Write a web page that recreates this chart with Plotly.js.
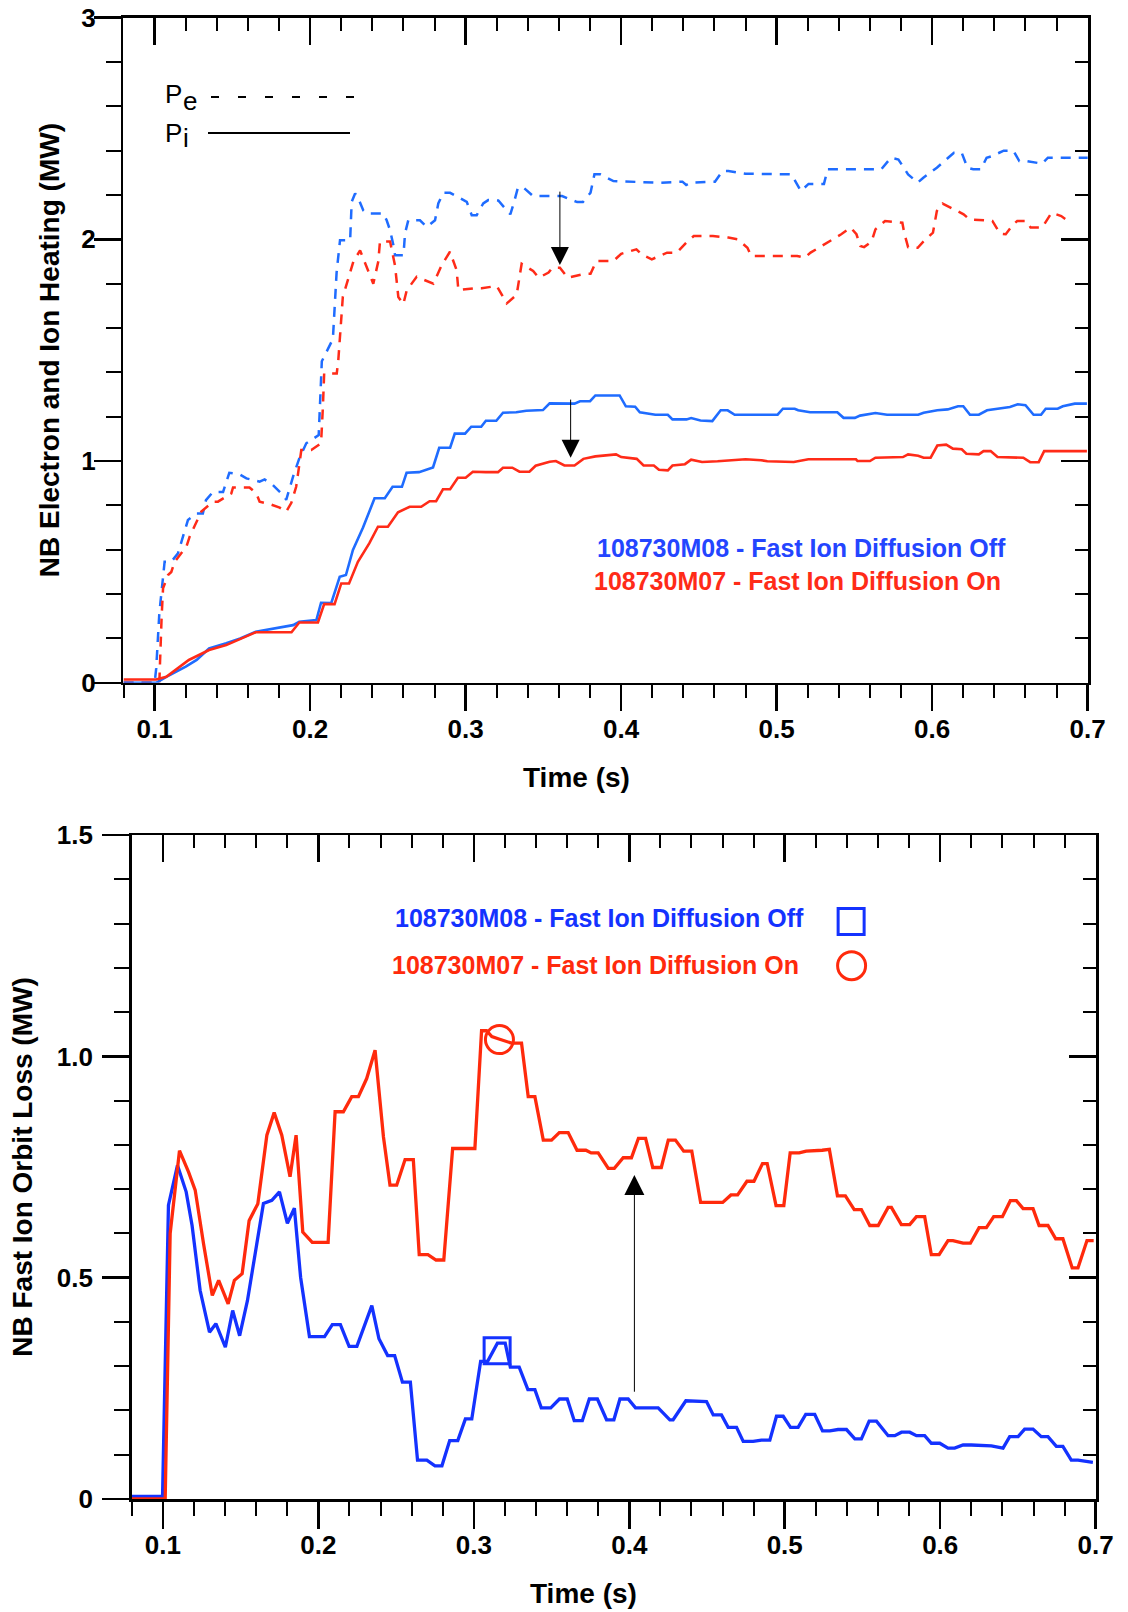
<!DOCTYPE html>
<html>
<head>
<meta charset="utf-8">
<script src="https://cdn.plot.ly/plotly-3.0.1.min.js"></script>
<style>
html,body{margin:0;padding:0;background:#ffffff;}
#chart{width:1128px;height:1612px;}
</style>
</head>
<body>
<div id="chart"></div>
<script>
// ---------------- DATA (top panel: NB electron / ion heating, MW) ----------------
const peBlueT = [0.08,0.1,0.101,0.103,0.1064,0.1107,0.115,0.1214,0.127,0.131,0.133,0.1375,0.144,0.148,0.1546,0.159,0.1675,0.1707,0.176,0.1836,0.1846,0.189,0.193,0.1975,0.2055,0.2065,0.2075,0.2146,0.2155,0.217,0.2192,0.2212,0.2257,0.2267,0.2289,0.231,0.2342,0.2364,0.247,0.2492,0.2514,0.2535,0.2546,0.26,0.261,0.2631,0.2706,0.275,0.2803,0.2824,0.2856,0.29,0.2964,0.3007,0.3039,0.3071,0.3113,0.3145,0.321,0.3287,0.331,0.3336,0.3373,0.3434,0.362,0.3717,0.3754,0.3803,0.3828,0.3865,0.395,0.4123,0.4246,0.4394,0.4418,0.4443,0.4603,0.4652,0.4689,0.48,0.5095,0.5107,0.5156,0.5205,0.5304,0.5328,0.5673,0.5734,0.5783,0.5845,0.5907,0.5943,0.603,0.6103,0.614,0.619,0.6227,0.6264,0.6313,0.635,0.6387,0.646,0.6522,0.656,0.661,0.6707,0.6744,0.7];
const peBlueV = [0,0,0.065,0.313,0.546,0.546,0.584,0.734,0.764,0.764,0.824,0.861,0.861,0.947,0.94,0.922,0.907,0.917,0.892,0.839,0.825,0.93,1.012,1.08,1.117,1.3,1.45,1.55,1.65,1.85,1.996,1.996,1.996,2.169,2.207,2.184,2.13,2.117,2.117,2.086,2.041,1.974,1.928,1.928,2.027,2.086,2.086,2.056,2.086,2.162,2.21,2.21,2.184,2.169,2.109,2.109,2.162,2.177,2.175,2.113,2.165,2.233,2.233,2.195,2.195,2.168,2.168,2.21,2.293,2.293,2.263,2.26,2.255,2.26,2.245,2.255,2.26,2.308,2.308,2.296,2.293,2.278,2.218,2.25,2.25,2.316,2.316,2.368,2.36,2.293,2.256,2.278,2.323,2.368,2.39,2.39,2.323,2.316,2.316,2.368,2.376,2.4,2.4,2.353,2.353,2.341,2.368,2.368];

const peRedT = [0.08,0.103,0.1045,0.1054,0.1086,0.1107,0.1129,0.116,0.1204,0.1225,0.1257,0.13,0.1375,0.1407,0.1493,0.1504,0.161,0.1654,0.1675,0.174,0.1804,0.1846,0.1879,0.191,0.193,0.1943,0.2007,0.207,0.2082,0.209,0.2171,0.2181,0.221,0.2278,0.2321,0.2385,0.2406,0.2438,0.2449,0.2514,0.2546,0.2567,0.2599,0.2621,0.2685,0.2792,0.2846,0.2899,0.2942,0.2953,0.3049,0.3103,0.32,0.3264,0.3328,0.336,0.3434,0.347,0.3533,0.3557,0.3606,0.3656,0.3766,0.3803,0.384,0.395,0.4,0.4098,0.4135,0.4197,0.4295,0.4357,0.4418,0.4467,0.459,0.4689,0.475,0.4812,0.4836,0.5132,0.518,0.5218,0.5304,0.5353,0.5415,0.5476,0.5513,0.5538,0.5562,0.561,0.5635,0.5697,0.5808,0.582,0.5845,0.5907,0.5943,0.6005,0.603,0.6067,0.6116,0.6202,0.624,0.6387,0.6436,0.6473,0.6522,0.6547,0.6608,0.6633,0.6707,0.6732,0.6768,0.683,0.686];
const peRedV = [0,0,0.3,0.426,0.486,0.5,0.546,0.576,0.614,0.659,0.704,0.772,0.817,0.817,0.854,0.881,0.881,0.854,0.817,0.806,0.79,0.772,0.812,0.884,0.982,1.05,1.05,1.08,1.245,1.395,1.395,1.455,1.74,1.9,1.95,1.83,1.8,1.9,1.99,1.99,1.88,1.74,1.708,1.77,1.831,1.8,1.884,1.944,1.861,1.771,1.779,1.779,1.79,1.711,1.75,1.89,1.857,1.827,1.85,1.872,1.872,1.827,1.845,1.845,1.902,1.902,1.935,1.955,1.93,1.91,1.94,1.94,1.985,2.015,2.015,2.008,2.0,1.962,1.925,1.925,1.917,1.94,1.977,1.995,2.023,2.053,2.023,1.97,1.965,1.99,2.045,2.083,2.075,2.03,1.965,1.962,1.99,2.03,2.128,2.161,2.143,2.113,2.09,2.083,2.026,2.023,2.068,2.083,2.083,2.053,2.053,2.083,2.12,2.105,2.09];

const piBlueT = [0.08,0.101,0.1075,0.12,0.127,0.135,0.146,0.155,0.165,0.178,0.189,0.193,0.204,0.207,0.2136,0.219,0.223,0.2275,0.234,0.2414,0.248,0.253,0.259,0.262,0.27,0.279,0.283,0.29,0.293,0.2996,0.3036,0.31,0.313,0.3197,0.324,0.3325,0.339,0.3497,0.354,0.37,0.3735,0.38,0.3834,0.399,0.403,0.409,0.412,0.422,0.43,0.433,0.442,0.445,0.451,0.4586,0.464,0.4685,0.473,0.5006,0.504,0.5116,0.5138,0.5215,0.539,0.543,0.5503,0.5536,0.5635,0.571,0.591,0.5945,0.6033,0.61,0.6166,0.62,0.6243,0.63,0.6353,0.65,0.655,0.66,0.6652,0.67,0.673,0.6807,0.684,0.6917,0.6995];
const piBlueV = [0,0,0.027,0.073,0.103,0.155,0.178,0.2,0.23,0.245,0.26,0.275,0.283,0.361,0.36,0.478,0.486,0.599,0.7,0.832,0.832,0.884,0.884,0.947,0.95,0.971,1.06,1.06,1.124,1.124,1.155,1.155,1.182,1.182,1.218,1.22,1.227,1.23,1.26,1.259,1.27,1.27,1.296,1.296,1.247,1.245,1.22,1.209,1.209,1.188,1.188,1.194,1.183,1.18,1.229,1.229,1.209,1.209,1.236,1.236,1.229,1.22,1.22,1.195,1.195,1.205,1.217,1.209,1.209,1.218,1.229,1.233,1.247,1.247,1.209,1.209,1.229,1.244,1.256,1.252,1.209,1.209,1.236,1.236,1.247,1.259,1.259];

const piRedT = [0.08,0.101,0.1075,0.122,0.135,0.146,0.165,0.188,0.193,0.205,0.209,0.2157,0.22,0.225,0.2307,0.238,0.2436,0.25,0.2565,0.264,0.2714,0.2768,0.281,0.2854,0.29,0.295,0.3,0.3046,0.313,0.3208,0.324,0.33,0.3346,0.341,0.345,0.354,0.358,0.3635,0.37,0.3757,0.3834,0.392,0.3967,0.4,0.41,0.4144,0.421,0.4243,0.43,0.433,0.441,0.445,0.452,0.462,0.48,0.49,0.494,0.511,0.5204,0.551,0.552,0.56,0.5635,0.5812,0.5845,0.591,0.5945,0.599,0.6033,0.609,0.6133,0.619,0.622,0.63,0.633,0.6376,0.642,0.6586,0.663,0.6685,0.672,0.6995];
const piRedV = [0.015,0.015,0.027,0.103,0.148,0.17,0.228,0.228,0.272,0.272,0.355,0.355,0.448,0.448,0.546,0.629,0.704,0.704,0.769,0.794,0.794,0.819,0.819,0.873,0.873,0.925,0.925,0.952,0.95,0.95,0.97,0.97,0.952,0.952,0.979,0.997,1.0,0.98,0.98,1.01,1.021,1.025,1.03,1.018,1.01,0.98,0.98,0.961,0.958,0.98,0.986,1.006,0.996,0.999,1.008,1.004,0.999,0.996,1.008,1.008,1.0,1.0,1.015,1.018,1.03,1.024,1.015,1.015,1.07,1.074,1.056,1.053,1.033,1.03,1.045,1.045,1.018,1.015,0.995,0.995,1.045,1.045];

// ---------------- DATA (bottom panel: NB fast ion orbit loss, MW) ----------------
const lossBlueT = [0.08,0.0998,0.1036,0.1094,0.115,0.1188,0.124,0.13,0.1341,0.1402,0.1449,0.1494,0.1544,0.1593,0.1647,0.1701,0.175,0.1801,0.1846,0.1886,0.1943,0.204,0.209,0.2142,0.2198,0.2248,0.2344,0.239,0.2446,0.2491,0.2541,0.2592,0.2638,0.2698,0.275,0.2795,0.2845,0.2897,0.2946,0.2987,0.3044,0.3089,0.3152,0.3202,0.3235,0.3292,0.3348,0.3393,0.3434,0.3495,0.3551,0.3601,0.3646,0.3698,0.3743,0.3795,0.3854,0.3901,0.394,0.3993,0.404,0.4186,0.4261,0.4282,0.4364,0.4497,0.454,0.4593,0.4636,0.469,0.4733,0.4797,0.485,0.4904,0.4947,0.499,0.5037,0.5086,0.5135,0.5193,0.5243,0.529,0.5343,0.5397,0.5451,0.5493,0.5543,0.559,0.5665,0.5708,0.5751,0.5804,0.5847,0.59,0.5943,0.5997,0.605,0.6093,0.6147,0.62,0.6329,0.6404,0.6447,0.6501,0.6543,0.6597,0.665,0.6693,0.6747,0.6789,0.6843,0.6886,0.6982];
const lossBlueV = [0.006,0.006,0.664,0.754,0.694,0.618,0.471,0.377,0.396,0.343,0.426,0.369,0.448,0.554,0.668,0.675,0.694,0.623,0.657,0.501,0.367,0.367,0.394,0.394,0.345,0.345,0.437,0.362,0.324,0.324,0.264,0.264,0.088,0.088,0.075,0.075,0.132,0.132,0.181,0.181,0.311,0.311,0.352,0.352,0.298,0.298,0.247,0.247,0.206,0.206,0.226,0.226,0.177,0.177,0.226,0.226,0.179,0.179,0.226,0.226,0.206,0.206,0.179,0.179,0.222,0.22,0.19,0.19,0.162,0.162,0.13,0.13,0.133,0.133,0.187,0.187,0.162,0.162,0.191,0.191,0.154,0.154,0.157,0.157,0.136,0.136,0.176,0.176,0.143,0.143,0.151,0.151,0.143,0.143,0.126,0.126,0.115,0.115,0.122,0.122,0.12,0.115,0.141,0.141,0.158,0.158,0.141,0.141,0.119,0.119,0.088,0.088,0.083];

const lossRedT = [0.08,0.1015,0.1047,0.1107,0.1165,0.1208,0.1262,0.1318,0.1359,0.142,0.146,0.151,0.1555,0.1611,0.1669,0.1716,0.1765,0.1818,0.1857,0.19,0.1961,0.2063,0.2108,0.2161,0.2215,0.2258,0.2311,0.2365,0.2419,0.2461,0.2504,0.2558,0.2611,0.2649,0.2705,0.2757,0.2807,0.2864,0.3007,0.305,0.3082,0.3116,0.3157,0.3243,0.3307,0.335,0.3393,0.3447,0.35,0.355,0.3607,0.3664,0.3721,0.3755,0.38,0.3865,0.3904,0.3961,0.4014,0.4059,0.4105,0.4151,0.4206,0.4251,0.4297,0.435,0.4402,0.4459,0.4601,0.4654,0.4697,0.4757,0.4802,0.4857,0.4887,0.4944,0.4994,0.5035,0.5093,0.5138,0.5241,0.5287,0.5339,0.539,0.5447,0.5493,0.5547,0.5601,0.5665,0.5686,0.575,0.5804,0.5847,0.59,0.5943,0.5993,0.605,0.6082,0.6147,0.6194,0.625,0.6297,0.6344,0.64,0.6451,0.649,0.6533,0.6597,0.6636,0.6693,0.6743,0.6789,0.6849,0.6886,0.6944,0.6987];
const lossRedV = [0,0,0.6,0.787,0.739,0.698,0.576,0.46,0.494,0.441,0.494,0.509,0.629,0.667,0.822,0.873,0.822,0.728,0.822,0.603,0.58,0.58,0.875,0.875,0.909,0.909,0.95,1.014,0.818,0.709,0.709,0.767,0.767,0.552,0.552,0.54,0.54,0.792,0.792,1.058,1.058,1.045,1.04,1.03,1.03,0.909,0.909,0.811,0.811,0.828,0.828,0.788,0.788,0.782,0.782,0.747,0.747,0.771,0.771,0.815,0.815,0.749,0.749,0.811,0.811,0.786,0.786,0.67,0.67,0.687,0.687,0.718,0.718,0.758,0.758,0.663,0.663,0.782,0.782,0.786,0.788,0.79,0.685,0.685,0.654,0.654,0.618,0.618,0.659,0.659,0.62,0.62,0.638,0.638,0.552,0.552,0.584,0.584,0.578,0.578,0.613,0.613,0.638,0.638,0.674,0.674,0.656,0.656,0.618,0.618,0.588,0.588,0.522,0.522,0.584,0.584];

// symbol markers (point on curve, legend key)
const squareT = [0.315, 0.5427];
const squareV = [0.335, 1.305];
const circleT = [0.3165, 0.543];
const circleV = [1.038, 1.205];

// arrows: time, tail value, head value
const topArrowT = [0.3606, 0.3675];
const topArrowFrom = [2.222, 1.284];
const topArrowTo = [1.884, 1.015];
const botArrowT = [0.4033];
const botArrowFrom = [0.239];
const botArrowTo = [0.732];

// labels
const legendOff = '108730M08 - Fast Ion Diffusion Off';
const legendOn = '108730M07 - Fast Ion Diffusion On';
const topYTitle = 'NB Electron and Ion Heating (MW)';
const botYTitle = 'NB Fast Ion Orbit Loss (MW)';
const xTitle = 'Time (s)';

// ---------------- STYLE ----------------
const FONT = 'Liberation Sans, Arial, Helvetica, sans-serif';
const W = 1128, H = 1612;
const px = v => v / W;
const py = v => 1 - v / H;

const topBlue = '#1f6cff', topRed = '#ff2b18';
const botBlue = '#1432ff', botRed = '#ff2a0c';
const txtBlue = '#2445ff';

const tickFont = {family: FONT, size: 26, color: '#000', weight: 'bold'};
const titleFont = {family: FONT, size: 28, color: '#000', weight: 'bold'};

const traces = [
  {x: peBlueT, y: peBlueV, xaxis: 'x', yaxis: 'y', mode: 'lines', line: {color: topBlue, width: 2.5, dash: '10px,8px'}, hoverinfo: 'skip'},
  {x: peRedT, y: peRedV, xaxis: 'x', yaxis: 'y', mode: 'lines', line: {color: topRed, width: 2.5, dash: '10px,8px'}, hoverinfo: 'skip'},
  {x: piBlueT, y: piBlueV, xaxis: 'x', yaxis: 'y', mode: 'lines', line: {color: topBlue, width: 2.6}, hoverinfo: 'skip'},
  {x: piRedT, y: piRedV, xaxis: 'x', yaxis: 'y', mode: 'lines', line: {color: topRed, width: 2.6}, hoverinfo: 'skip'},
  {x: lossBlueT, y: lossBlueV, xaxis: 'x2', yaxis: 'y2', mode: 'lines', line: {color: botBlue, width: 3.3}, hoverinfo: 'skip'},
  {x: lossRedT, y: lossRedV, xaxis: 'x2', yaxis: 'y2', mode: 'lines', line: {color: botRed, width: 3.3}, hoverinfo: 'skip'},
  {x: squareT, y: squareV, xaxis: 'x2', yaxis: 'y2', mode: 'markers', marker: {symbol: 'square-open', size: 26, color: botBlue, line: {width: 3, color: botBlue}}, hoverinfo: 'skip', cliponaxis: false},
  {x: circleT, y: circleV, xaxis: 'x2', yaxis: 'y2', mode: 'markers', marker: {symbol: 'circle-open', size: 28, color: botRed, line: {width: 3, color: botRed}}, hoverinfo: 'skip', cliponaxis: false},
  // empty traces that attach the mirrored frame axes (top and right, ticks inside)
  {x: [], y: [], xaxis: 'x3', yaxis: 'y', mode: 'lines', hoverinfo: 'skip'},
  {x: [], y: [], xaxis: 'x', yaxis: 'y3', mode: 'lines', hoverinfo: 'skip'},
  {x: [], y: [], xaxis: 'x4', yaxis: 'y2', mode: 'lines', hoverinfo: 'skip'},
  {x: [], y: [], xaxis: 'x2', yaxis: 'y4', mode: 'lines', hoverinfo: 'skip'}
];

function mainX(domain, anchor, xlen, mlen, lstand) {
  return {
    domain: domain, anchor: anchor, range: [0.0799, 0.7002],
    showline: true, linecolor: '#000', linewidth: 2.5,
    ticks: 'outside', ticklen: xlen, tickwidth: 2.5, tickcolor: '#000',
    tick0: 0, dtick: 0.1, tickformat: '.1f', tickfont: tickFont, ticklabelstandoff: lstand,
    minor: {dtick: 0.02, tick0: 0, ticks: 'outside', ticklen: mlen, tickwidth: 2, tickcolor: '#000', showgrid: false},
    showgrid: false, zeroline: false, fixedrange: true, automargin: false
  };
}
function topX(over, anchor) {
  return {
    visible: true, overlaying: over, anchor: anchor, side: 'top', range: [0.0799, 0.7002],
    showline: true, linecolor: '#000', linewidth: 2.5,
    ticks: 'inside', ticklen: 27, tickwidth: 2.5, tickcolor: '#000',
    tick0: 0, dtick: 0.1, showticklabels: false,
    minor: {dtick: 0.02, tick0: 0, ticks: 'inside', ticklen: 13, tickwidth: 2, tickcolor: '#000', showgrid: false},
    showgrid: false, zeroline: false, fixedrange: true, automargin: false
  };
}
function mainY(domain, anchor, range, dtick, mdtick, title, standoff, lstand) {
  return {
    domain: domain, anchor: anchor, range: range,
    showline: true, linecolor: '#000', linewidth: 2.5,
    ticks: 'outside', ticklen: 27, tickwidth: 2.5, tickcolor: '#000',
    tick0: 0, dtick: dtick, tickfont: tickFont, ticklabelstandoff: lstand,
    minor: {dtick: mdtick, tick0: 0, ticks: 'outside', ticklen: 15, tickwidth: 2, tickcolor: '#000', showgrid: false},
    showgrid: false, zeroline: false, fixedrange: true, automargin: false,
    title: {text: title, font: titleFont, standoff: standoff}
  };
}
function rightY(over, anchor, range, dtick, mdtick) {
  return {
    visible: true, overlaying: over, anchor: anchor, side: 'right', range: range,
    showline: true, linecolor: '#000', linewidth: 2.5,
    ticks: 'inside', ticklen: 27, tickwidth: 2.5, tickcolor: '#000',
    tick0: 0, dtick: dtick, showticklabels: false,
    minor: {dtick: mdtick, tick0: 0, ticks: 'inside', ticklen: 13, tickwidth: 2, tickcolor: '#000', showgrid: false},
    showgrid: false, zeroline: false, fixedrange: true, automargin: false
  };
}

const annotations = [];
// P_e / P_i key labels (top panel)
const keyFont = {family: FONT, size: 26, color: '#000'};
annotations.push({xref: 'paper', yref: 'paper', x: px(163), y: py(94), xanchor: 'left', yanchor: 'middle', text: 'P', showarrow: false, font: keyFont});
annotations.push({xref: 'paper', yref: 'paper', x: px(180.5), y: py(101), xanchor: 'left', yanchor: 'middle', text: 'e', showarrow: false, font: keyFont});
annotations.push({xref: 'paper', yref: 'paper', x: px(163), y: py(133), xanchor: 'left', yanchor: 'middle', text: 'P', showarrow: false, font: keyFont});
annotations.push({xref: 'paper', yref: 'paper', x: px(181), y: py(138), xanchor: 'left', yanchor: 'middle', text: 'i', showarrow: false, font: keyFont});

// x-axis titles
annotations.push({xref: 'paper', yref: 'paper', x: px(576), y: py(778), xanchor: 'center', yanchor: 'middle', text: xTitle, showarrow: false, font: titleFont});
annotations.push({xref: 'paper', yref: 'paper', x: px(583), y: py(1593), xanchor: 'center', yanchor: 'middle', text: xTitle, showarrow: false, font: titleFont});

// series labels
const legFont = (c) => ({family: FONT, size: 25, color: c, weight: 'bold'});
annotations.push({xref: 'paper', yref: 'paper', x: px(595), y: py(548), xanchor: 'left', yanchor: 'middle', text: legendOff, showarrow: false, font: legFont(txtBlue)});
annotations.push({xref: 'paper', yref: 'paper', x: px(592), y: py(581), xanchor: 'left', yanchor: 'middle', text: legendOn, showarrow: false, font: legFont(topRed)});
annotations.push({xref: 'paper', yref: 'paper', x: px(393), y: py(918), xanchor: 'left', yanchor: 'middle', text: legendOff, showarrow: false, font: legFont(botBlue)});
annotations.push({xref: 'paper', yref: 'paper', x: px(390), y: py(965), xanchor: 'left', yanchor: 'middle', text: legendOn, showarrow: false, font: legFont(botRed)});

// arrows
topArrowT.forEach((t, i) => {
  annotations.push({xref: 'x', yref: 'y', axref: 'x', ayref: 'y', x: t, y: topArrowTo[i], ax: t, ay: topArrowFrom[i],
    text: '', showarrow: true, arrowhead: 2, arrowsize: 3.6, arrowwidth: 1, arrowcolor: '#000'});
});
botArrowT.forEach((t, i) => {
  annotations.push({xref: 'x2', yref: 'y2', axref: 'x2', ayref: 'y2', x: t, y: botArrowTo[i], ax: t, ay: botArrowFrom[i],
    text: '', showarrow: true, arrowhead: 2, arrowsize: 4, arrowwidth: 1, arrowcolor: '#000'});
});

const shapes = [
  {type: 'line', xref: 'paper', yref: 'paper', x0: px(211), x1: px(354), y0: py(97), y1: py(97), line: {color: '#000', width: 2.2, dash: '8px,19px'}},
  {type: 'line', xref: 'paper', yref: 'paper', x0: px(208), x1: px(350), y0: py(133), y1: py(133), line: {color: '#000', width: 2.2}}
];

const layout = {
  width: W, height: H,
  margin: {l: 0, r: 0, t: 0, b: 0, pad: 0},
  paper_bgcolor: '#fff', plot_bgcolor: '#fff',
  showlegend: false,
  font: {family: FONT, color: '#000'},
  xaxis: mainX([123.4 / W, 1088 / W], 'y', 26, 13, -5),
  yaxis: mainY([1 - 682.8 / H, 1 - 17.5 / H], 'x', [0, 3.0005], 1, 0.2, topYTitle, 14, -7),
  xaxis3: topX('x', 'y'),
  yaxis3: rightY('y', 'x', [0, 3.0005], 1, 0.2),
  xaxis2: mainX([131.6 / W, 1096 / W], 'y2', 27, 14, -6),
  yaxis2: mainY([1 - 1499 / H, 1 - 835 / H], 'x2', [0, 1.5003], 0.5, 0.1, botYTitle, 16, 4),
  xaxis4: topX('x2', 'y2'),
  yaxis4: rightY('y2', 'x2', [0, 1.5003], 0.5, 0.1),
  annotations: annotations,
  shapes: shapes
};
// bottom-panel y tick labels: 0, 0.5, 1.0, 1.5
layout.yaxis2.tickmode = 'array';
layout.yaxis2.tickvals = [0, 0.5, 1.0, 1.5];
layout.yaxis2.ticktext = ['0', '0.5', '1.0', '1.5'];

Plotly.newPlot('chart', traces, layout, {staticPlot: true, displayModeBar: false});
</script>
</body>
</html>
